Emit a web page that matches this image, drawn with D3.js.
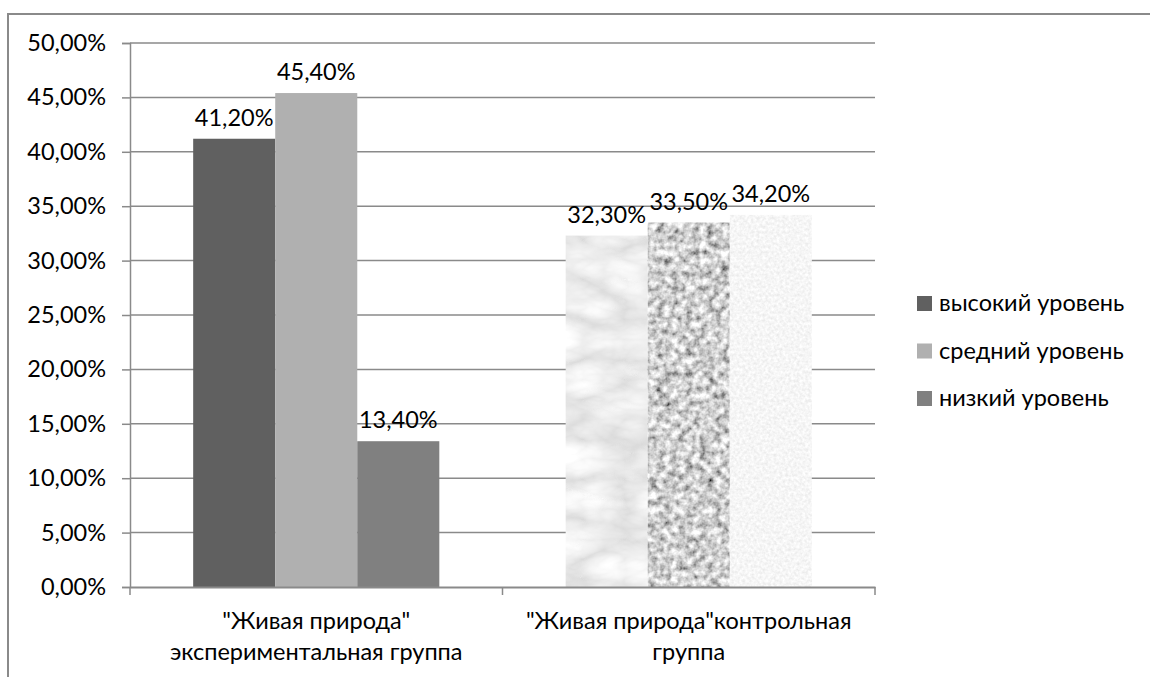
<!DOCTYPE html>
<html lang="ru">
<head>
<meta charset="UTF-8">
<title>Живая природа</title>
<script src="https://d3js.org/d3.v7.min.js"></script>
<style>
  body { margin: 0; background: #fff; }
  text { font-family: Lato, "Open Sans", sans-serif; fill: #000; }
</style>
</head>
<body>
<div id="chart"></div>
<script>
// data
const groups = ['"Живая природа" экспериментальная группа', '"Живая природа"контрольная группа'];
const groupLines = [['"Живая природа"', 'экспериментальная группа'], ['"Живая природа"контрольная', 'группа']];
const series = ["высокий уровень", "средний уровень", "низкий уровень"];
const values = [
  [41.2, 45.4, 13.4],   // experimental
  [32.3, 33.5, 34.2]    // control
];
const yTicks = [0, 5, 10, 15, 20, 25, 30, 35, 40, 45, 50];

const width = 1150, height = 677;
const margin = { left: 130, right: 275, top: 43, bottom: 90 };
const fs = 23.5;

const svg = d3.select("#chart").append("svg")
  .attr("width", width).attr("height", height);

// textures for the second group
const defs = svg.append("defs");
function texture(id, freq, octaves, a, b, type, seed) {
  const f = defs.append("filter").attr("id", id)
    .attr("x", 0).attr("y", 0).attr("width", 1).attr("height", 1);
  f.append("feTurbulence").attr("type", type).attr("baseFrequency", freq)
    .attr("numOctaves", octaves).attr("seed", seed).attr("result", "n");
  const m = `${a} 0 0 0 ${b}`;
  f.append("feColorMatrix").attr("in", "n").attr("type", "matrix")
    .attr("values", `${m} ${m} ${m} 0 0 0 0 1`).attr("result", "g");
  f.append("feComposite").attr("in", "g").attr("in2", "SourceGraphic").attr("operator", "in");
}
texture("marble", "0.012 0.025", 4, 0.45, 0.7, "turbulence", 5);
texture("granite", "0.14", 3, 1.5, -0.12, "fractalNoise", 2);
texture("speckle", "0.35", 2, 0.3, 0.77, "fractalNoise", 7);

const colors = ["#606060", "#b0b0b0", "#808080"];
const textures = ["marble", "granite", "speckle"];

const x0 = d3.scaleBand().domain(groups).range([margin.left, width - margin.right]);
const x1 = d3.scaleBand().domain(series).range([0, x0.bandwidth()]).paddingOuter(0.77);
const y = d3.scaleLinear().domain([0, 50]).range([height - margin.bottom, margin.top]);

// outer frame
svg.append("path").attr("d", `M8,${height} V14 H${width}`)
  .attr("fill", "none").attr("stroke", "#8a8a8a").attr("stroke-width", 2);

// grid + y axis
const yAxis = d3.axisLeft(y).tickValues(yTicks).tickSize(8)
  .tickFormat(d => d.toFixed(2).replace(".", ",") + "%");
const gy = svg.append("g").attr("transform", `translate(${margin.left},0)`).call(yAxis);
gy.select(".domain").attr("stroke", "#8a8a8a").attr("stroke-width", 1.5);
gy.selectAll(".tick line").attr("stroke", "#8a8a8a").attr("stroke-width", 1.5);
gy.selectAll(".tick text").attr("x", -24).attr("font-size", fs).attr("font-family", "Lato").attr("fill", "#000");

svg.append("g").selectAll("line").data(yTicks.filter(d => d > 0)).join("line")
  .attr("x1", margin.left).attr("x2", width - margin.right)
  .attr("y1", d => y(d)).attr("y2", d => y(d))
  .attr("stroke", "#8a8a8a").attr("stroke-width", 1.5);

// bars
const bars = svg.append("g");
groups.forEach((g, gi) => {
  series.forEach((s, si) => {
    const v = values[gi][si];
    const r = bars.append("rect")
      .attr("x", x0(g) + x1(s)).attr("width", x1.bandwidth())
      .attr("y", y(v)).attr("height", y(0) - y(v))
      .attr("fill", gi === 0 ? colors[si] : "#000");
    if (gi === 1) r.attr("filter", `url(#${textures[si]})`);
    bars.append("text")
      .attr("x", x0(g) + x1(s) + x1.bandwidth() / 2)
      .attr("y", y(v) - 13)
      .attr("text-anchor", "middle").attr("font-size", fs)
      .text(v.toFixed(2).replace(".", ",") + "%");
  });
});

// x axis
const xAxis = d3.axisBottom(x0).tickSize(0).tickFormat("");
const gx = svg.append("g").attr("transform", `translate(0,${y(0)})`).call(xAxis);
gx.select(".domain").attr("stroke", "#8a8a8a").attr("stroke-width", 2);
const bounds = [margin.left, ...groups.map(g => x0(g) + x0.bandwidth())];
gx.selectAll("line.sep").data(bounds).join("line").attr("class", "sep")
  .attr("x1", d => d).attr("x2", d => d).attr("y1", 0).attr("y2", 8)
  .attr("stroke", "#8a8a8a").attr("stroke-width", 1.5);
groups.forEach((g, gi) => {
  const t = svg.append("text").attr("text-anchor", "middle").attr("font-size", fs)
    .attr("x", x0(g) + x0.bandwidth() / 2).attr("y", y(0) + 42);
  groupLines[gi].forEach((line, li) => {
    t.append("tspan").attr("x", x0(g) + x0.bandwidth() / 2).attr("dy", li ? 31 : 0).text(line);
  });
});

// legend
const legend = svg.append("g").attr("transform", "translate(917,296)");
series.forEach((s, i) => {
  const row = legend.append("g").attr("transform", `translate(0,${i * 47.5})`);
  row.append("rect").attr("width", 15).attr("height", 15).attr("fill", colors[i]);
  row.append("text").attr("x", 22).attr("y", 15).attr("font-size", fs).text(s);
});
</script>
</body>
</html>
